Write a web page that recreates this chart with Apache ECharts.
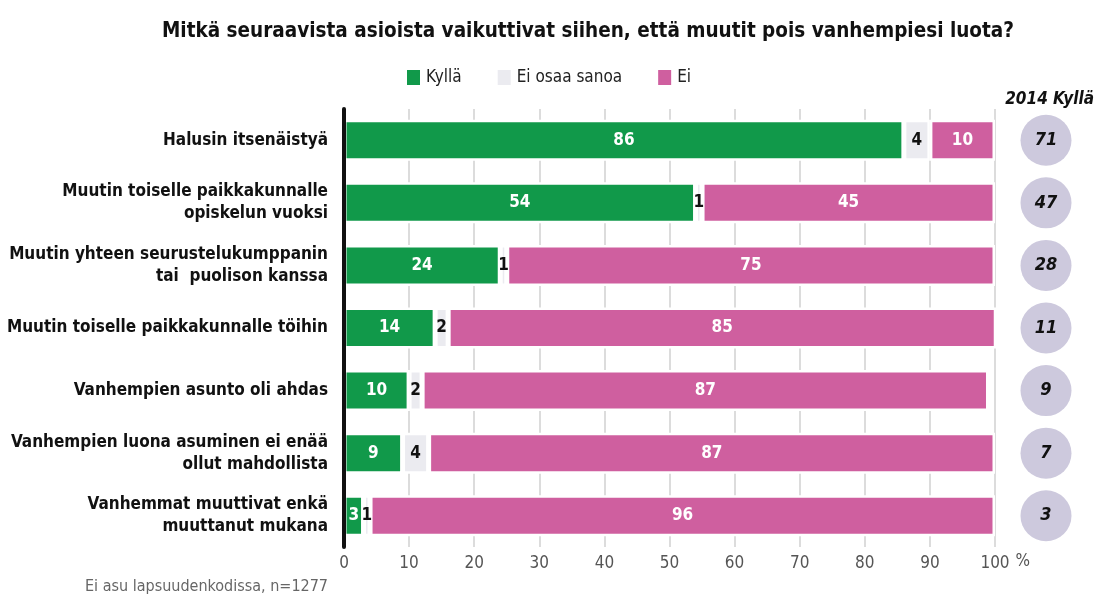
<!DOCTYPE html>
<html>
<head>
<meta charset="utf-8">
<script src="https://cdn.jsdelivr.net/npm/echarts@6/dist/echarts.min.js"></script>
<style>
  html, body { margin: 0; padding: 0; background: #fff; }
  #chart { width: 1095px; height: 596px; }
</style>
</head>
<body>
<div id="chart"></div>
<script>
var categories = [
  "Halusin itsenäistyä",
  "Muutin toiselle paikkakunnalle\nopiskelun vuoksi",
  "Muutin yhteen seurustelukumppanin\ntai  puolison kanssa",
  "Muutin toiselle paikkakunnalle töihin",
  "Vanhempien asunto oli ahdas",
  "Vanhempien luona asuminen ei enää\nollut mahdollista",
  "Vanhemmat muuttivat enkä\nmuuttanut mukana"
];
var kylla = [86, 54, 24, 14, 10, 9, 3];
var eos = [4, 1, 1, 2, 2, 4, 1];
var ei = [10, 45, 75, 85, 87, 87, 96];
var kylla2014 = [71, 47, 28, 11, 9, 7, 3];
var xTicks = [0, 10, 20, 30, 40, 50, 60, 70, 80, 90, 100];

var font = '"Liberation Sans Narrow", "DejaVu Sans Condensed", sans-serif';
var green = "#11994a", grey = "#ebebf0", pink = "#cf5f9f";

var myChart = echarts.init(document.getElementById("chart"));

function barSeries(name, data, color, textColor) {
  return {
    name: name,
    type: "bar",
    stack: "total",
    barWidth: 41,
    data: data,
    itemStyle: { color: color, borderColor: "#fff", borderWidth: 2.5 },
    label: {
      show: true,
      position: "inside",
      color: textColor,
      fontFamily: font,
      fontWeight: "bold",
      fontSize: 17
    }
  };
}

myChart.setOption({
  animation: false,
  title: [
    {
      text: "Mitkä seuraavista asioista vaikuttivat siihen, että muutit pois vanhempiesi luota?",
      left: 583,
      top: 16,
      textAlign: "center",
      textStyle: { fontFamily: font, fontWeight: "bold", fontSize: 20.5, color: "#111" }
    },
    {
      text: "2014 Kyllä",
      left: 1089,
      top: 86,
      textAlign: "right",
      textStyle: { fontFamily: font, fontWeight: "bold", fontStyle: "italic", fontSize: 17, color: "#111" }
    },
    {
      text: "Ei asu lapsuudenkodissa, n=1277",
      left: 80,
      top: 574,
      textStyle: { fontFamily: font, fontWeight: "normal", fontSize: 16, color: "#666" }
    }
  ],
  legend: {
    left: 400,
    top: 63,
    itemWidth: 15,
    itemHeight: 17,
    itemGap: 34,
    icon: "rect",
    textStyle: { fontFamily: font, fontSize: 17, color: "#222" },
    data: ["Kyllä", "Ei osaa sanoa", "Ei"]
  },
  grid: [
    { left: 344, right: 100, top: 109, bottom: 49, containLabel: false, outerBoundsMode: "none" },
    { left: 1020, width: 52, top: 109, bottom: 49, containLabel: false, outerBoundsMode: "none" }
  ],
  xAxis: [
    {
      type: "value",
      gridIndex: 0,
      min: xTicks[0],
      max: xTicks[xTicks.length - 1],
      interval: 10,
      name: "%",
      nameLocation: "end",
      nameGap: 20,
      nameTextStyle: { fontFamily: font, fontSize: 17, color: "#555", verticalAlign: "top", padding: [6, 0, 0, 0] },
      axisLine: { show: false },
      axisTick: { show: false },
      axisLabel: { fontFamily: font, fontSize: 17, color: "#555", margin: 8 },
      splitLine: { show: true, lineStyle: { color: "#dcdcdc", width: 2 } }
    },
    {
      type: "value",
      gridIndex: 1,
      min: -1,
      max: 1,
      show: false
    }
  ],
  yAxis: [
    {
      type: "category",
      gridIndex: 0,
      inverse: true,
      z: 5,
      data: categories,
      axisLine: { show: true, lineStyle: { color: "#111", width: 4 } },
      axisTick: { show: false },
      axisLabel: {
        fontFamily: font,
        fontWeight: "bold",
        fontSize: 17,
        color: "#111",
        lineHeight: 22,
        margin: 16,
        align: "right"
      }
    },
    {
      type: "category",
      gridIndex: 1,
      inverse: true,
      data: categories,
      show: false
    }
  ],
  series: [
    barSeries("Kyllä", kylla, green, "#fff"),
    barSeries("Ei osaa sanoa", eos, grey, "#111"),
    barSeries("Ei", ei, pink, "#fff"),
    {
      name: "2014 Kyllä",
      type: "scatter",
      xAxisIndex: 1,
      yAxisIndex: 1,
      symbolSize: 51,
      itemStyle: { color: "#cdc9dd", opacity: 1 },
      data: categories.map(function (c, i) {
        return { value: [0, i], label: { formatter: String(kylla2014[i]) } };
      }),
      label: {
        show: true,
        position: "inside",
        color: "#111",
        fontFamily: font,
        fontWeight: "bold",
        fontStyle: "italic",
        fontSize: 18
      }
    }
  ]
});
</script>
</body>
</html>
